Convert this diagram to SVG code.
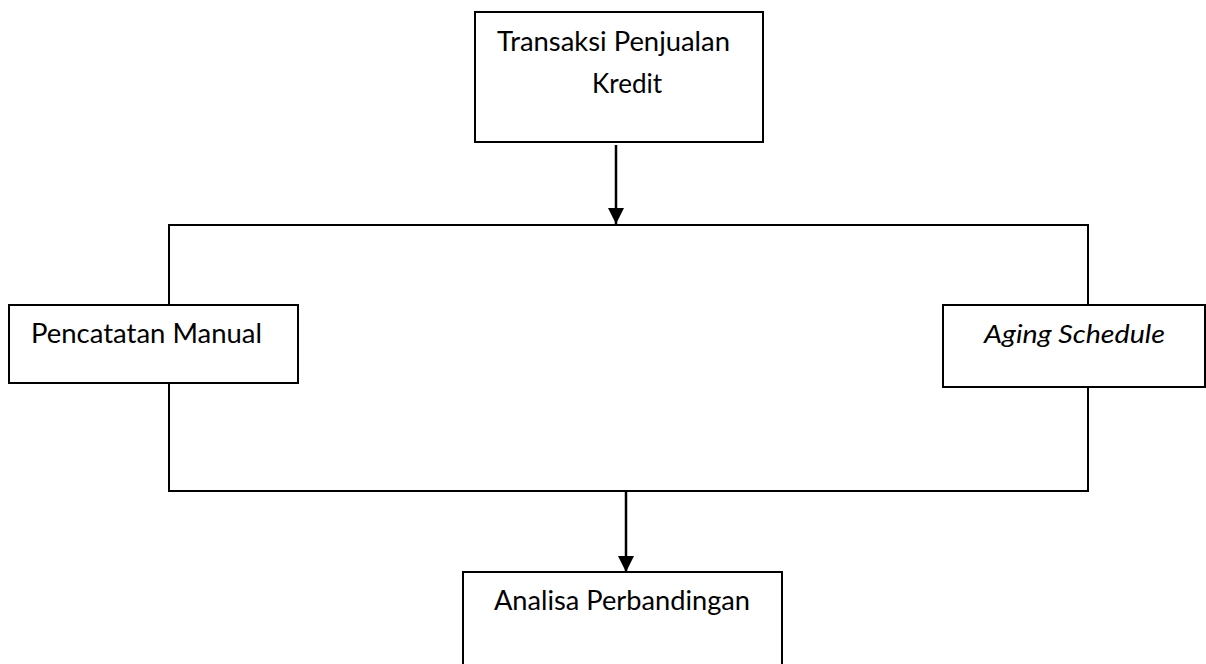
<svg xmlns="http://www.w3.org/2000/svg" width="1206" height="664" viewBox="0 0 1206 664">
<style>
.box{fill:#fff;stroke:#000;stroke-width:2}
.ln{fill:none;stroke:#000;stroke-width:2}
.ar{fill:none;stroke:#000;stroke-width:2.5}
text{font-family:Lato,"Open Sans","DejaVu Sans",sans-serif;font-size:26px;fill:#000}
</style>
<defs>
<marker id="arr" markerWidth="16" markerHeight="16" refX="16" refY="8" orient="auto" markerUnits="userSpaceOnUse" viewBox="0 0 16 16">
<path d="M0,0 L16,8 L0,16 Z" fill="#000"/>
</marker>
</defs>
<rect width="1206" height="664" fill="#fff"/>
<g id="connectors">
<rect class="ln" x="169" y="225" width="919" height="266"/>
<line class="ar" x1="616" y1="145" x2="616" y2="224" marker-end="url(#arr)"/>
<line class="ar" x1="626" y1="492" x2="626" y2="572" marker-end="url(#arr)"/>
</g>
<g id="n1">
<rect class="box" x="475" y="12" width="288" height="130"/>
<text x="497" y="51" textLength="233" lengthAdjust="spacingAndGlyphs">Transaksi Penjualan</text>
<text x="592" y="93" textLength="70" lengthAdjust="spacingAndGlyphs">Kredit</text>
</g>
<g id="n2">
<rect class="box" x="9" y="305" width="289" height="78"/>
<text x="31" y="343" textLength="231" lengthAdjust="spacingAndGlyphs">Pencatatan Manual</text>
</g>
<g id="n3">
<rect class="box" x="943" y="305" width="262" height="82"/>
<text x="984" y="343" font-style="italic" textLength="181" lengthAdjust="spacingAndGlyphs">Aging Schedule</text>
</g>
<g id="n4">
<rect class="box" x="463" y="572" width="319" height="100"/>
<text x="494" y="610" textLength="256" lengthAdjust="spacingAndGlyphs">Analisa Perbandingan</text>
</g>
</svg>
